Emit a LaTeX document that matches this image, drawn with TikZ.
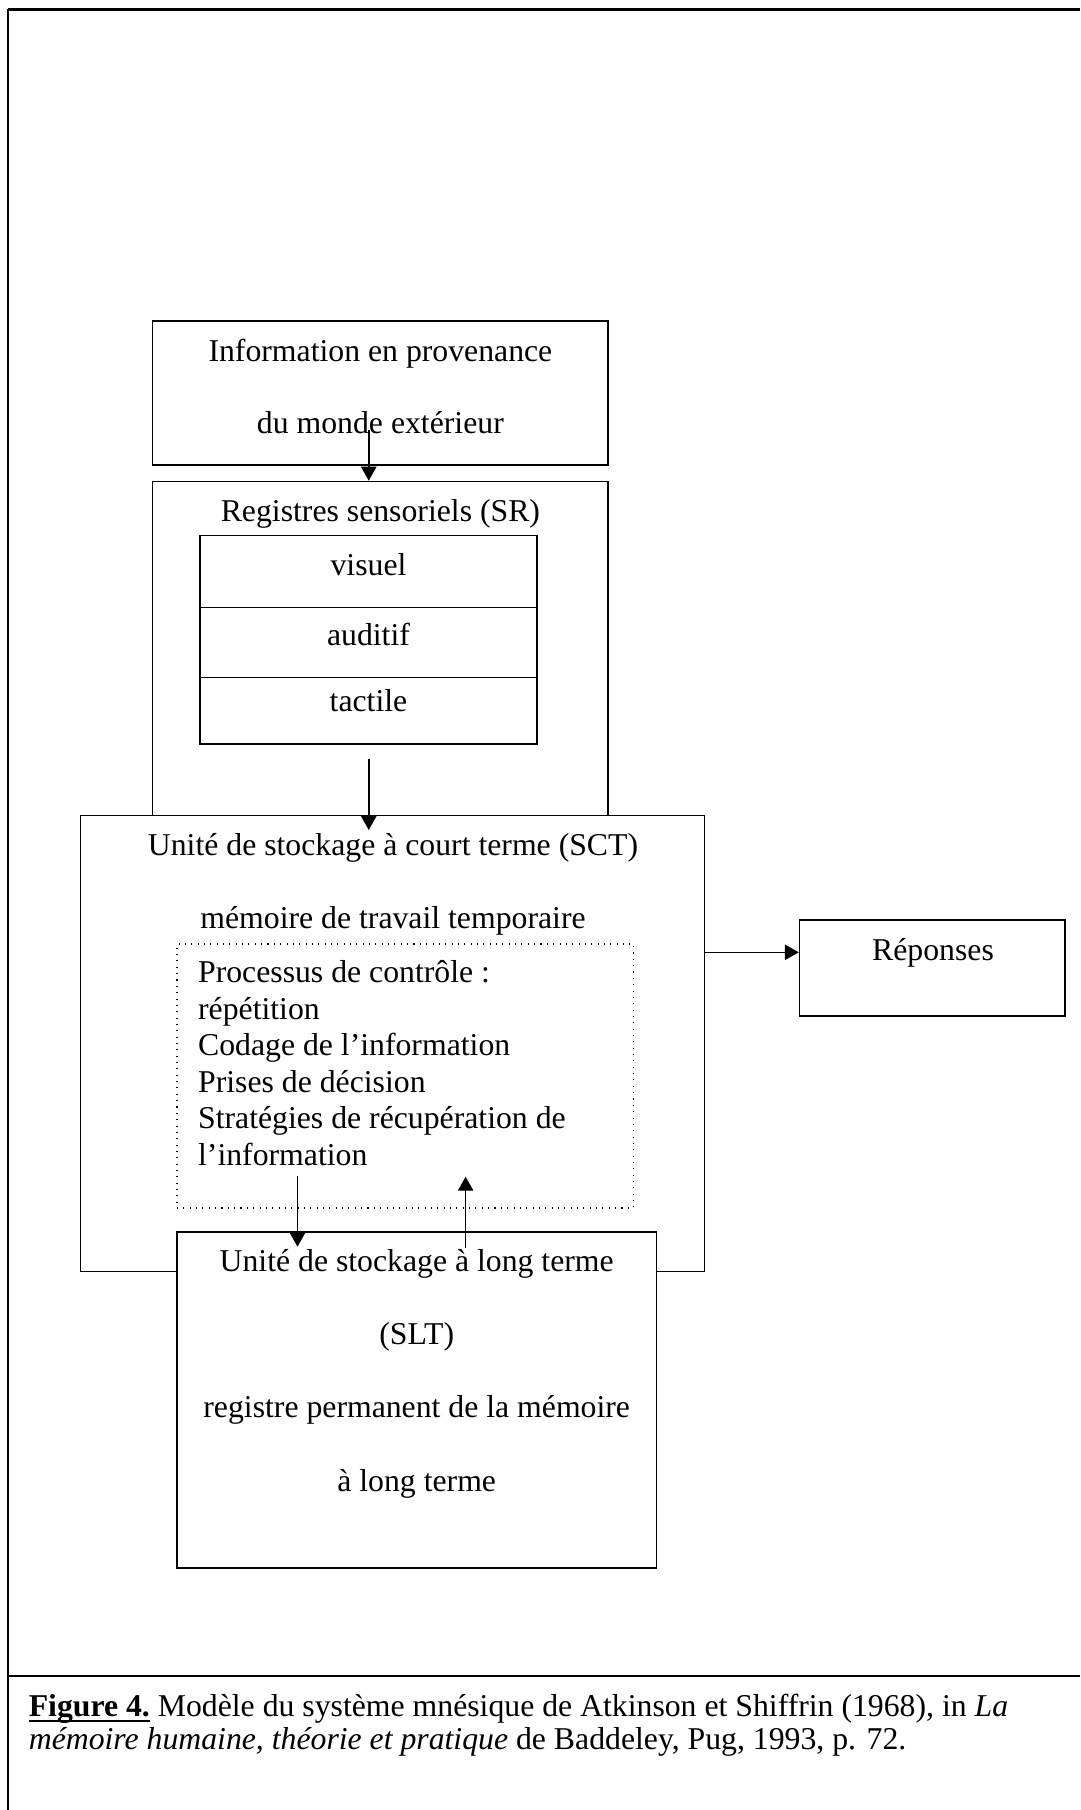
\documentclass[tikz,border=0pt]{standalone}
\usepackage{fontspec}
\setmainfont{Liberation Serif}
\usetikzlibrary{fit,arrows.meta}
\newcommand\myul[1]{\setbox0\hbox{#1}\rlap{\rule[-2.2pt]{\wd0}{0.9pt}}\box0\relax}
\begin{document}
\begin{tikzpicture}[x=0.378pt,y=-0.378pt,
  font=\fontsize{12}{13.8}\selectfont,
  box/.style={draw, line width=0.6pt, fill=white, inner sep=0pt},
  dotbox/.style={draw, line width=0.4pt, dotted, inner sep=0pt},
  txt/.style={inner sep=0pt, anchor=base},
  ltxt/.style={inner sep=0pt, anchor=base west},
  arr/.style={-{Triangle[length=5.3pt,width=5.8pt]}, line width=0.6pt},
  frame/.style={line width=0.8pt}]
\useasboundingbox (0,0) rectangle (1080,1810);
% page frame
\coordinate (tl) at (8.3,9.5);
\coordinate (tr) at (1080,9.5);
\coordinate (bl) at (8.3,1810);
\coordinate (sl) at (8.3,1676);
\coordinate (sr) at (1080,1676);
\draw[line width=1pt] (tr) -- (tl);
\draw[frame] (tl) -- (bl);
\draw[frame] (sl) -- (sr);
% information box
\node[box, fit={(152.7,321) (608,465)}] (info) {};
\node[txt] (t1) at (380.4,362) {Information en provenance};
\node[txt] (t2) at (380.4,434) {du monde extérieur};
% sensory registers
\node[box, fit={(152.7,481.5) (608,816)}] (srbox) {};
\node[txt] (t3) at (380.4,522) {Registres sensoriels (SR)};
\node[box, fit={(200,535.7) (537,744)}] (modal) {};
\coordinate (d1l) at (200,607.7); \coordinate (d1r) at (537,607.7);
\coordinate (d2l) at (200,677.3); \coordinate (d2r) at (537,677.3);
\draw[line width=0.6pt] (d1l) -- (d1r);
\draw[line width=0.6pt] (d2l) -- (d2r);
\node[txt] (vis) at (368.5,576) {visuel};
\node[txt] (aud) at (368.5,645.5) {auditif};
\node[txt] (tac) at (368.5,711) {tactile};
% arrow info -> SR
\coordinate (a1s) at (368.75,430);
\draw[arr] (a1s) -- (a1s |- srbox.north);
% short term store
\node[box, fit={(80.6,815.7) (704.5,1271.5)}] (sct) {};
\node[txt] (t4) at (393,855) {Unité de stockage à court terme (SCT)};
\node[txt] (t5) at (393,928) {mémoire de travail temporaire};
\coordinate (a2s) at (368.75,759);
\coordinate (a2e) at (368.75,830);
\draw[arr] (a2s) -- (a2e);
% control processes
\node[dotbox, fit={(177,944) (633.6,1208)}] (ctrl) {};
\node[ltxt] (p1) at (197.6,982.5) {Processus de contrôle :};
\node[ltxt] (p2) at (197.6,1019) {répétition};
\node[ltxt] (p3) at (197.6,1055.5) {Codage de l’information};
\node[ltxt] (p4) at (197.6,1092) {Prises de décision};
\node[ltxt] (p5) at (197.6,1128.5) {Stratégies de récupération de};
\node[ltxt] (p6) at (197.6,1165) {l’information};
% responses
\node[box, fit={(799.6,920) (1065,1016)}] (rep) {};
\node[txt] (t6) at (933,960) {Réponses};
\coordinate (a3s) at (704.5,952.3);
\draw[arr] (a3s) -- (a3s -| rep.west);
% long term store
\node[box, fit={(177,1232) (656.3,1568)}] (slt) {};
\node[txt] (t7) at (416.7,1271) {Unité de stockage à long terme};
\node[txt] (t8) at (416.7,1344.6) {(SLT)};
\node[txt] (t9) at (416.7,1417.9) {registre permanent de la mémoire};
\node[txt] (t10) at (416.7,1491) {à long terme};
\coordinate (a4s) at (297.5,1176);
\coordinate (a4e) at (297.5,1246.7);
\draw[arr] (a4s) -- (a4e);
\coordinate (a5s) at (465.6,1248);
\coordinate (a5e) at (465.6,1176.7);
\draw[arr] (a5s) -- (a5e);
% caption
\node[ltxt] (c1) at (28.3,1716.5) {\myul{\textbf{Figure 4.}} Modèle du système mnésique de Atkinson et Shiffrin (1968), in \textit{La}};
\node[ltxt] (c2) at (28.3,1749) {\textit{mémoire humaine, théorie et pratique} de Baddeley, Pug, 1993, p. 72.};
\end{tikzpicture}
\end{document}
